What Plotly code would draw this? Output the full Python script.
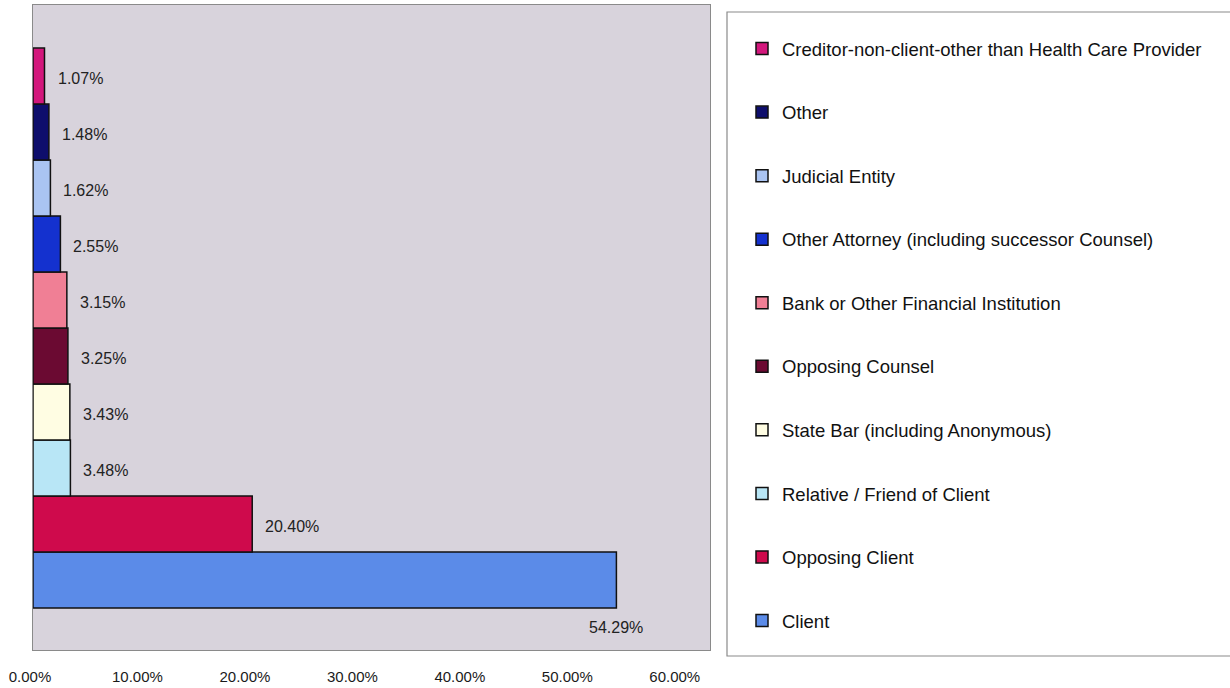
import plotly.graph_objects as go

categories = [
    "Client",
    "Opposing Client",
    "Relative / Friend of Client",
    "State Bar (including Anonymous)",
    "Opposing Counsel",
    "Bank or Other Financial Institution",
    "Other Attorney (including successor Counsel)",
    "Judicial Entity",
    "Other",
    "Creditor-non-client-other than Health Care Provider",
]
values = [54.29, 20.40, 3.48, 3.43, 3.25, 3.15, 2.55, 1.62, 1.48, 1.07]
colors = [
    "#5B8BE8", "#CF0A4C", "#B8E6F6", "#FFFDE3", "#6B0A32",
    "#F07F95", "#1431CF", "#AAC4F2", "#0E0E6C", "#D3177C",
]
tick_vals = [0, 10, 20, 30, 40, 50, 60]
tick_text = ["0.00%", "10.00%", "20.00%", "30.00%", "40.00%", "50.00%", "60.00%"]

FONT = "Liberation Sans, Arial, sans-serif"
W, H = 1230, 688
L, R, T, B = 33, 520, 5, 38
pw, ph = W - L - R, H - T - B

fig = go.Figure()
n = len(categories)
for i, (cat, val, col) in enumerate(zip(categories, values, colors)):
    fig.add_trace(go.Bar(
        y=[i], x=[val], orientation="h", name=cat, width=1.0,
        marker=dict(color=col, line=dict(color="#111111", width=1.5)),
        legendgroup=cat, legendrank=n - i, hoverinfo="x+name",
    ))

# data labels
for i, val in enumerate(values):
    label = f"{val:.2f}%"
    if i == 0:
        fig.add_annotation(x=val, y=i - 0.84, text=label, showarrow=False,
                           xanchor="center", yanchor="middle",
                           font=dict(size=16, color="#222222", family=FONT))
    else:
        fig.add_annotation(x=val, y=i - 0.05, text=label, showarrow=False,
                           xanchor="left", yanchor="middle", xshift=11,
                           font=dict(size=16, color="#222222", family=FONT))

# legend frame
fig.add_shape(type="rect", xref="paper", yref="paper",
              x0=(727 - L) / pw, x1=(1240 - L) / pw,
              y0=(H - B - 656) / ph, y1=(H - B - 12) / ph,
              line=dict(color="#8a8a8a", width=1.2), fillcolor="rgba(0,0,0,0)",
              layer="below")

fig.update_layout(
    width=W, height=H,
    margin=dict(l=L, r=R, t=T, b=B, autoexpand=False),
    paper_bgcolor="white",
    plot_bgcolor="#D8D3DC",
    barmode="overlay",
    font=dict(family=FONT, color="#222222"),
    xaxis=dict(range=[0, 63], tickvals=tick_vals, ticktext=tick_text,
               showgrid=False, zeroline=False, showline=True, mirror=True,
               linecolor="#8a8a8a", linewidth=1.2, ticks="", automargin=False,
               ticklabelstandoff=13, ticklabelshift=-3,
               tickfont=dict(size=15, family=FONT, color="#1a1a1a")),
    yaxis=dict(range=[-1.25, 10.27], showticklabels=False, showgrid=False,
               zeroline=False, showline=True, mirror=True, automargin=False,
               linecolor="#8a8a8a", linewidth=1.2, ticks=""),
    showlegend=True,
    legend=dict(
        x=(742 - L) / pw, xanchor="left",
        y=(H - B - 30) / ph, yanchor="top",
        traceorder="grouped", tracegroupgap=36.5,
        font=dict(size=18.5, family=FONT, color="#111111"),
        bgcolor="rgba(0,0,0,0)", borderwidth=0, itemwidth=30,
    ),
)

fig.write_html("out.html", config={"displayModeBar": False},
               post_script="document.body.style.margin='0px';")
